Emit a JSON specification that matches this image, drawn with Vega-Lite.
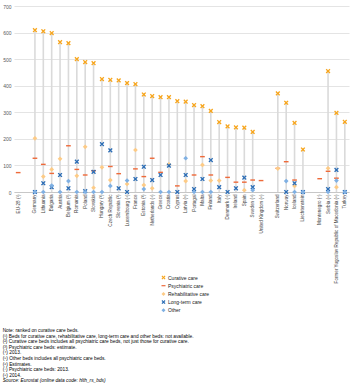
{
  "$schema": "https://vega.github.io/schema/vega-lite/v6.json",
  "width": 335,
  "height": 186,
  "padding": {"left": 2, "top": 4, "right": 2, "bottom": 0},
  "config": {
    "font": "Liberation Sans",
    "view": {"stroke": null},
    "legend": {
      "orient": "none",
      "legendX": 147,
      "legendY": 269,
      "labelFontSize": 5,
      "labelColor": "#202020",
      "symbolSize": 16,
      "rowPadding": 2.2,
      "labelOffset": 2,
      "symbolStrokeWidth": 0
    }
  },
  "title": {
    "text": [
      "Note: ranked on curative care beds.",
      "(¹) Beds for curative care, rehabilitative care, long-term care and other beds: not available.",
      "(²) Curative care beds includes all psychiatric care beds, not just those for curative care.",
      "(³) Psychiatric care beds: estimate.",
      "(⁴) 2013.",
      "(⁵) Other beds includes all psychiatric care beds.",
      "(⁶) Estimates.",
      "(⁷) Psychiatric care beds: 2013.",
      "(⁸) 2014."
    ],
    "subtitle": "Source: Eurostat (online data code: hlth_rs_bds)",
    "orient": "bottom",
    "anchor": "start",
    "frame": "bounds",
    "offset": 14,
    "fontSize": 4.8,
    "fontWeight": "normal",
    "lineHeight": 5.6,
    "color": "#000000",
    "subtitleFontSize": 4.8,
    "subtitleFontStyle": "italic",
    "subtitleLineHeight": 5.6,
    "subtitlePadding": 0.5,
    "subtitleColor": "#000000"
  },
  "data": {
    "values": [
      {"country": "EU-28 (¹)", "type": "Psychiatric care", "value": 73},
      {"country": "Germany", "type": "Curative care", "value": 609},
      {"country": "Germany", "type": "Psychiatric care", "value": 127},
      {"country": "Germany", "type": "Rehabilitative care", "value": 202},
      {"country": "Germany", "type": "Long-term care", "value": 0},
      {"country": "Germany", "type": "Other", "value": 0},
      {"country": "Lithuania", "type": "Curative care", "value": 605},
      {"country": "Lithuania", "type": "Psychiatric care", "value": 104},
      {"country": "Lithuania", "type": "Rehabilitative care", "value": 58},
      {"country": "Lithuania", "type": "Long-term care", "value": 33},
      {"country": "Lithuania", "type": "Other", "value": 0},
      {"country": "Bulgaria", "type": "Curative care", "value": 598},
      {"country": "Bulgaria", "type": "Psychiatric care", "value": 70},
      {"country": "Bulgaria", "type": "Rehabilitative care", "value": 85},
      {"country": "Bulgaria", "type": "Long-term care", "value": 18},
      {"country": "Bulgaria", "type": "Other", "value": 24},
      {"country": "Austria", "type": "Curative care", "value": 564},
      {"country": "Austria", "type": "Rehabilitative care", "value": 125},
      {"country": "Austria", "type": "Long-term care", "value": 64},
      {"country": "Austria", "type": "Other", "value": 0},
      {"country": "Belgium (²)", "type": "Curative care", "value": 560},
      {"country": "Belgium (²)", "type": "Psychiatric care", "value": 174},
      {"country": "Belgium (²)", "type": "Other", "value": 41},
      {"country": "Belgium (²)", "type": "Long-term care", "value": 14},
      {"country": "Romania", "type": "Curative care", "value": 500},
      {"country": "Romania", "type": "Psychiatric care", "value": 85},
      {"country": "Romania", "type": "Rehabilitative care", "value": 61},
      {"country": "Romania", "type": "Long-term care", "value": 114},
      {"country": "Romania", "type": "Other", "value": 0},
      {"country": "Poland", "type": "Curative care", "value": 489},
      {"country": "Poland", "type": "Psychiatric care", "value": 64},
      {"country": "Poland", "type": "Rehabilitative care", "value": 170},
      {"country": "Poland", "type": "Long-term care", "value": 3},
      {"country": "Poland", "type": "Other", "value": 0},
      {"country": "Slovakia", "type": "Curative care", "value": 485},
      {"country": "Slovakia", "type": "Psychiatric care", "value": 80},
      {"country": "Slovakia", "type": "Rehabilitative care", "value": 16},
      {"country": "Slovakia", "type": "Long-term care", "value": 76},
      {"country": "Slovakia", "type": "Other", "value": 0},
      {"country": "Hungary (³)", "type": "Curative care", "value": 425},
      {"country": "Hungary (³)", "type": "Rehabilitative care", "value": 93},
      {"country": "Hungary (³)", "type": "Long-term care", "value": 180},
      {"country": "Hungary (³)", "type": "Other", "value": 0},
      {"country": "Czech Republic", "type": "Curative care", "value": 422},
      {"country": "Czech Republic", "type": "Psychiatric care", "value": 96},
      {"country": "Czech Republic", "type": "Rehabilitative care", "value": 45},
      {"country": "Czech Republic", "type": "Long-term care", "value": 157},
      {"country": "Czech Republic", "type": "Other", "value": 23},
      {"country": "Slovenia (³)", "type": "Curative care", "value": 420},
      {"country": "Slovenia (³)", "type": "Psychiatric care", "value": 69},
      {"country": "Slovenia (³)", "type": "Long-term care", "value": 14},
      {"country": "Luxembourg (⁴)", "type": "Curative care", "value": 410},
      {"country": "Luxembourg (⁴)", "type": "Rehabilitative care", "value": 30},
      {"country": "Luxembourg (⁴)", "type": "Long-term care", "value": 0},
      {"country": "Luxembourg (⁴)", "type": "Other", "value": 43},
      {"country": "France", "type": "Curative care", "value": 406},
      {"country": "France", "type": "Psychiatric care", "value": 87},
      {"country": "France", "type": "Rehabilitative care", "value": 158},
      {"country": "France", "type": "Long-term care", "value": 49},
      {"country": "Estonia (³)", "type": "Curative care", "value": 367},
      {"country": "Estonia (³)", "type": "Psychiatric care", "value": 58},
      {"country": "Estonia (³)", "type": "Rehabilitative care", "value": 26},
      {"country": "Estonia (³)", "type": "Long-term care", "value": 95},
      {"country": "Estonia (³)", "type": "Other", "value": 11},
      {"country": "Netherlands (⁴)", "type": "Curative care", "value": 361},
      {"country": "Netherlands (⁴)", "type": "Psychiatric care", "value": 127},
      {"country": "Netherlands (⁴)", "type": "Rehabilitative care", "value": 14},
      {"country": "Netherlands (⁴)", "type": "Long-term care", "value": 45},
      {"country": "Greece", "type": "Curative care", "value": 357},
      {"country": "Greece", "type": "Psychiatric care", "value": 74},
      {"country": "Greece", "type": "Long-term care", "value": 64},
      {"country": "Greece", "type": "Other", "value": 0},
      {"country": "Croatia", "type": "Curative care", "value": 357},
      {"country": "Croatia", "type": "Rehabilitative care", "value": 104},
      {"country": "Croatia", "type": "Long-term care", "value": 99},
      {"country": "Croatia", "type": "Other", "value": 0},
      {"country": "Cyprus", "type": "Curative care", "value": 342},
      {"country": "Cyprus", "type": "Psychiatric care", "value": 23},
      {"country": "Cyprus", "type": "Long-term care", "value": 0},
      {"country": "Latvia (⁵)", "type": "Curative care", "value": 340},
      {"country": "Latvia (⁵)", "type": "Rehabilitative care", "value": 41},
      {"country": "Latvia (⁵)", "type": "Long-term care", "value": 64},
      {"country": "Latvia (⁵)", "type": "Other", "value": 127},
      {"country": "Portugal", "type": "Curative care", "value": 327},
      {"country": "Portugal", "type": "Psychiatric care", "value": 64},
      {"country": "Portugal", "type": "Long-term care", "value": 11},
      {"country": "Portugal", "type": "Other", "value": 0},
      {"country": "Malta", "type": "Curative care", "value": 323},
      {"country": "Malta", "type": "Psychiatric care", "value": 133},
      {"country": "Malta", "type": "Rehabilitative care", "value": 102},
      {"country": "Malta", "type": "Long-term care", "value": 49},
      {"country": "Malta", "type": "Other", "value": 0},
      {"country": "Finland", "type": "Curative care", "value": 305},
      {"country": "Finland", "type": "Psychiatric care", "value": 64},
      {"country": "Finland", "type": "Rehabilitative care", "value": 43},
      {"country": "Finland", "type": "Long-term care", "value": 120},
      {"country": "Finland", "type": "Other", "value": 0},
      {"country": "Italy", "type": "Curative care", "value": 263},
      {"country": "Italy", "type": "Rehabilitative care", "value": 43},
      {"country": "Italy", "type": "Long-term care", "value": 18},
      {"country": "Denmark (⁴)", "type": "Curative care", "value": 247},
      {"country": "Denmark (⁴)", "type": "Psychiatric care", "value": 55},
      {"country": "Denmark (⁴)", "type": "Long-term care", "value": 0},
      {"country": "Ireland", "type": "Curative care", "value": 243},
      {"country": "Ireland", "type": "Psychiatric care", "value": 37},
      {"country": "Ireland", "type": "Long-term care", "value": 14},
      {"country": "Spain", "type": "Curative care", "value": 242},
      {"country": "Spain", "type": "Psychiatric care", "value": 37},
      {"country": "Spain", "type": "Rehabilitative care", "value": 7},
      {"country": "Spain", "type": "Long-term care", "value": 54},
      {"country": "Sweden (⁴)", "type": "Curative care", "value": 226},
      {"country": "Sweden (⁴)", "type": "Psychiatric care", "value": 45},
      {"country": "Sweden (⁴)", "type": "Long-term care", "value": 18},
      {"country": "Sweden (⁴)", "type": "Other", "value": 7},
      {"country": "United Kingdom (⁶)", "type": "Psychiatric care", "value": 43},
      {"country": "Switzerland", "type": "Curative care", "value": 371},
      {"country": "Switzerland", "type": "Psychiatric care", "value": 89},
      {"country": "Switzerland", "type": "Rehabilitative care", "value": 88},
      {"country": "Norway", "type": "Curative care", "value": 336},
      {"country": "Norway", "type": "Psychiatric care", "value": 114},
      {"country": "Norway", "type": "Long-term care", "value": 0},
      {"country": "Norway", "type": "Other", "value": 41},
      {"country": "Iceland", "type": "Curative care", "value": 260},
      {"country": "Iceland", "type": "Psychiatric care", "value": 45},
      {"country": "Iceland", "type": "Rehabilitative care", "value": 23},
      {"country": "Iceland", "type": "Long-term care", "value": 33},
      {"country": "Iceland", "type": "Other", "value": 0},
      {"country": "Liechtenstein", "type": "Curative care", "value": 160},
      {"country": "Liechtenstein", "type": "Long-term care", "value": 0},
      {"country": "Liechtenstein", "type": "Other", "value": 0},
      {"country": "Montenegro (⁷)", "type": "Psychiatric care", "value": 50},
      {"country": "Serbia (⁸)", "type": "Curative care", "value": 455},
      {"country": "Serbia (⁸)", "type": "Psychiatric care", "value": 78},
      {"country": "Serbia (⁸)", "type": "Rehabilitative care", "value": 89},
      {"country": "Serbia (⁸)", "type": "Long-term care", "value": 11},
      {"country": "Serbia (⁸)", "type": "Other", "value": 0},
      {"country": "Former Yugoslav Republic of Macedonia (⁶)", "type": "Curative care", "value": 298},
      {"country": "Former Yugoslav Republic of Macedonia (⁶)", "type": "Psychiatric care", "value": 52},
      {"country": "Former Yugoslav Republic of Macedonia (⁶)", "type": "Rehabilitative care", "value": 18},
      {"country": "Former Yugoslav Republic of Macedonia (⁶)", "type": "Long-term care", "value": 83},
      {"country": "Former Yugoslav Republic of Macedonia (⁶)", "type": "Other", "value": 43},
      {"country": "Turkey", "type": "Curative care", "value": 264},
      {"country": "Turkey", "type": "Long-term care", "value": 0},
      {"country": "Turkey", "type": "Other", "value": 0}
    ]
  },
  "encoding": {
    "x": {
      "field": "country",
      "type": "nominal",
      "scale": {
        "type": "point",
        "padding": 0.5,
        "domain": ["EU-28 (¹)", " ", "Germany", "Lithuania", "Bulgaria", "Austria", "Belgium (²)", "Romania", "Poland", "Slovakia", "Hungary (³)", "Czech Republic", "Slovenia (³)", "Luxembourg (⁴)", "France", "Estonia (³)", "Netherlands (⁴)", "Greece", "Croatia", "Cyprus", "Latvia (⁵)", "Portugal", "Malta", "Finland", "Italy", "Denmark (⁴)", "Ireland", "Spain", "Sweden (⁴)", "United Kingdom (⁶)", "  ", "Switzerland", "Norway", "Iceland", "Liechtenstein", "   ", "Montenegro (⁷)", "Serbia (⁸)", "Former Yugoslav Republic of Macedonia (⁶)", "Turkey"]
      },
      "axis": {
        "title": null,
        "labelAngle": 270,
        "labelFontSize": 4.6,
        "labelColor": "#404040",
        "labelPadding": 2,
        "ticks": false,
        "domainColor": "#bfbfbf",
        "domainWidth": 0.8,
        "grid": false,
        "labelOverlap": false
      }
    },
    "y": {
      "field": "value",
      "type": "quantitative",
      "scale": {"domain": [0, 700], "nice": false},
      "axis": {
        "title": null,
        "values": [0, 100, 200, 300, 400, 500, 600, 700],
        "domain": false,
        "ticks": false,
        "gridColor": "#d9d9d9",
        "gridWidth": 0.7,
        "labelFontSize": 5,
        "labelColor": "#595959",
        "labelPadding": 3
      }
    }
  },
  "layer": [
    {
      "transform": [{"filter": "datum.type === 'Curative care'"}],
      "mark": {"type": "rule", "color": "#dadada", "strokeWidth": 1.6},
      "encoding": {"y2": {"datum": 0}}
    },
    {
      "mark": {"type": "point", "filled": true, "opacity": 1, "size": 22},
      "encoding": {
        "color": {
          "field": "type",
          "type": "nominal",
          "scale": {
            "domain": ["Curative care", "Psychiatric care", "Rehabilitative care", "Long-term care", "Other"],
            "range": ["#F7A51C", "#EE6A3A", "#FDCB86", "#2C6DB5", "#7FB0E3"]
          },
          "legend": {"title": null}
        },
        "shape": {
          "field": "type",
          "type": "nominal",
          "scale": {
            "domain": ["Curative care", "Psychiatric care", "Rehabilitative care", "Long-term care", "Other"],
            "range": [
              "M-1,-0.6L-0.6,-1L0,-0.4L0.6,-1L1,-0.6L0.4,0L1,0.6L0.6,1L0,0.4L-0.6,1L-1,0.6L-0.4,0Z",
              "M-1,-0.3L1,-0.3L1,0.3L-1,0.3Z",
              "diamond",
              "M-1,-0.6L-0.6,-1L0,-0.4L0.6,-1L1,-0.6L0.4,0L1,0.6L0.6,1L0,0.4L-0.6,1L-1,0.6L-0.4,0Z",
              "diamond"
            ]
          },
          "legend": {"title": null}
        }
      }
    }
  ]
}
